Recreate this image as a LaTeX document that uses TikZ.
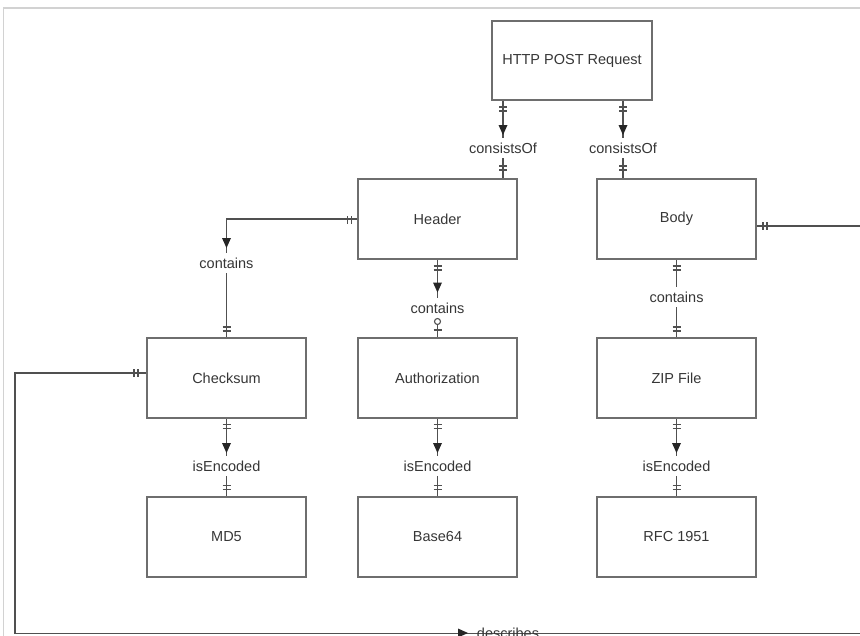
\documentclass[tikz,border=0pt]{standalone}
\usepackage{fontspec}
\setmainfont{Liberation Sans}
\usetikzlibrary{calc}
\pgfdeclarelayer{background}
\pgfsetlayers{background,main}
\definecolor{boxgray}{HTML}{6E6E6E}
\definecolor{lngray}{HTML}{505050}
\definecolor{txtgray}{HTML}{363636}
\definecolor{framegray}{HTML}{D2D2D2}

\begin{document}
\begin{tikzpicture}[x=1pt,y=-1pt,
  entity/.style={draw=boxgray, line width=1.6pt, minimum width=159pt,
    minimum height=80pt, inner sep=0pt, text=txtgray,
    font=\fontsize{14.5}{17}\selectfont},
  rel/.style={fill=white, inner xsep=2pt, inner ysep=5pt, text=txtgray,
    font=\fontsize{14.5}{17}\selectfont},
  conn/.style={draw=lngray, line width=1.3pt},
  tickst/.style={draw=lngray, line width=1.1pt},
  onev/.pic={\draw[tickst] (-4,-2)--(4,-2) (-4,2)--(4,2);},
  oneh/.pic={\draw[tickst] (-2,-4)--(-2,4) (2,-4)--(2,4);},
  onesingle/.pic={\draw[tickst] (-4,0)--(4,0);},
  ring/.pic={\draw[tickst, fill=white] (0,0) circle (3);},
  downtri/.pic={\fill[black!85] (-4.5,-5)--(4.5,-5)--(0,5)--cycle;},
  righttri/.pic={\fill[black!85] (-5,-4.5)--(-5,4.5)--(5,0)--cycle;}
]
\useasboundingbox (0,0) rectangle (860,635);
\clip (0,0) rectangle (860,635);

% outer frame
\draw[framegray, line width=1.5pt] (3.5,640) -- (3.5,8) -- (862,8);

% entities
\node[entity, minimum width=160pt, minimum height=79pt] (http) at (572,60.5) {HTTP POST Request};
\node[entity] (header)   at (437.5,219) {Header};
\node[entity] (body)     at (676.5,219) {Body};
\node[entity] (checksum) at (226.5,378) {Checksum};
\node[entity] (auth)     at (437.5,378) {Authorization};
\node[entity] (zip)      at (676.5,378) {ZIP File};
\node[entity] (md5)      at (226.5,537) {MD5};
\node[entity] (b64)      at (437.5,537) {Base64};
\node[entity] (rfc)      at (676.5,537) {RFC 1951};

% relationship labels
\node[rel] (consA) at (503,148)   {consistsOf};
\node[rel] (consB) at (623,148)   {consistsOf};
\node[rel] (contC) at (226.5,263) {contains};
\node[rel] (contA) at (437.5,308) {contains};
\node[rel] (contZ) at (676.5,297) {contains};
\node[rel] (encM)  at (226.5,466) {isEncoded};
\node[rel] (encB)  at (437.5,466) {isEncoded};
\node[rel] (encR)  at (676.5,466) {isEncoded};
\node[rel, fill=none, anchor=north, inner sep=0pt] (desc) at (508,627.5) {describes};

% connector bend points of the describes path
\coordinate (bodyR)  at (756.5,226);
\coordinate (edgeR)  at (860.5,226);
\coordinate (rightB) at (860.5,633.5);
\coordinate (csumL)  at (146.5,373);
\coordinate (leftX)  at (15,373);
\coordinate (leftB)  at (15,633.5);

% connectors, behind the labels
\begin{pgfonlayer}{background}
  \draw[conn] (http.south -| consA) -- (header.north -| consA);
  \draw[conn] (http.south -| consB) -- (body.north -| consB);
  \draw[conn] (header.west) -| (checksum.north);
  \draw[conn] (header.south) -- (auth.north);
  \draw[conn] (body.south) -- (zip.north);
  \draw[conn] (checksum.south) -- (md5.north);
  \draw[conn] (auth.south) -- (b64.north);
  \draw[conn] (zip.south) -- (rfc.north);
  \draw[conn] (csumL) -- (leftX) -- (leftB) -- (rightB) -- (edgeR) -- (bodyR);
\end{pgfonlayer}

% cardinality marks and direction arrows
\pic at (503,109) {onev};
\pic at (503,130) {downtri};
\pic at (503,168) {onev};
\pic at (623,109) {onev};
\pic at (623,130) {downtri};
\pic at (623,168) {onev};

\pic at (349.5,220) {oneh};
\pic at (226.5,243) {downtri};
\pic at (226.5,329) {onev};

\pic at (437.5,268) {onev};
\pic at (437.5,287.5) {downtri};
\pic at (437.5,321.5) {ring};
\pic at (437.5,330) {onesingle};

\pic at (676.5,268) {onev};
\pic at (676.5,329) {onev};

\pic at (765,226) {oneh};
\pic at (136,373) {oneh};

\foreach \x in {226.5,437.5,676.5}{
  \pic at (\x,426.5) {onev};
  \pic at (\x,448) {downtri};
  \pic at (\x,487.5) {onev};
}

\pic at (463,633) {righttri};
\end{tikzpicture}
\end{document}
